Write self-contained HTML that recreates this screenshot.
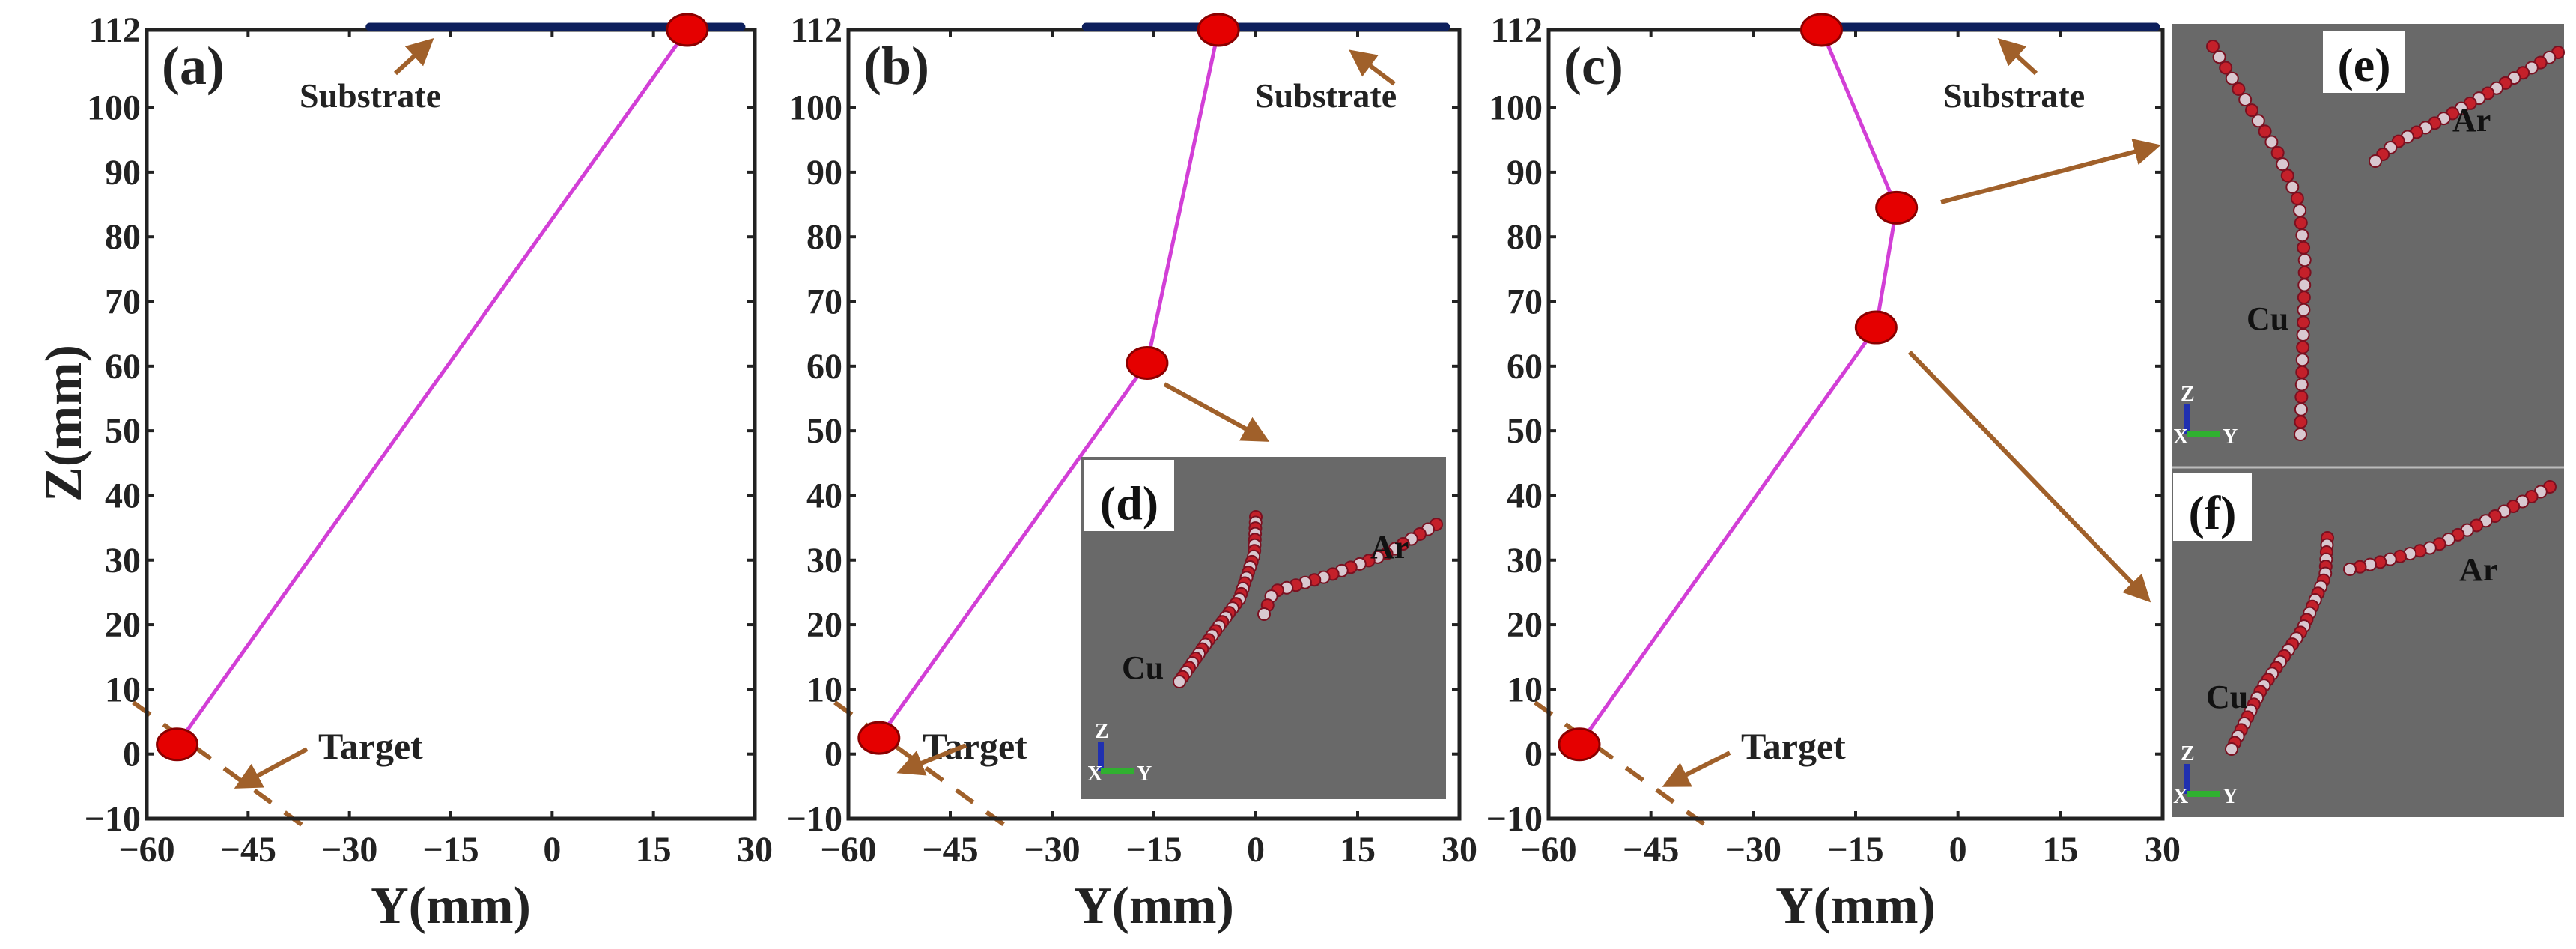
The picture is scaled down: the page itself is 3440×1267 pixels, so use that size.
<!DOCTYPE html>
<html><head><meta charset="utf-8"><style>
html,body{margin:0;padding:0;background:#fff;}
svg{display:block;}
text{font-family:"Liberation Serif",serif;font-weight:bold;}
</style></head><body>
<svg id="fig" width="3440" height="1267" viewBox="0 0 3440 1267" xmlns="http://www.w3.org/2000/svg"></svg>
<script>
const xTicks=[-60,-45,-30,-15,0,15,30];
const yTicks=[-10,0,10,20,30,40,50,60,70,80,90,100,112];
const pathA_y=[-55.5,20];
const pathA_z=[1.5,112];
const pathB_y=[-55.5,-16,-5.5];
const pathB_z=[2.5,60.5,112];
const pathC_y=[-55.5,-12,-9,-20];
const pathC_z=[1.5,66,84.5,112];
const substrateA=[-27,28];
const substrateB=[-25,28];
const substrateC=[-22,29];
const targetLine=[[-62,8],[-37,-11]];
const panelLetters=["(a)","(b)","(c)"];

const NS="http://www.w3.org/2000/svg";
const svg=document.getElementById('fig');
function el(tag,attrs,parent){const e=document.createElementNS(NS,tag);for(const k in attrs)e.setAttribute(k,attrs[k]);(parent||svg).appendChild(e);return e;}
function txt(s,attrs,parent){const e=el('text',attrs,parent);e.textContent=s;return e;}

const defs=el('defs',{});
const m=el('marker',{id:'ah',markerWidth:'6',markerHeight:'6',refX:'5',refY:'3',orient:'auto',markerUnits:'strokeWidth'},defs);
el('path',{d:'M0,0 L6,3 L0,6 Z',fill:'#a0602a'},m);

const panels=[
 {L:196,R:1008,ys:pathA_y,zs:pathA_z,sub:substrateA},
 {L:1133,R:1949,ys:pathB_y,zs:pathB_z,sub:substrateB},
 {L:2068,R:2888,ys:pathC_y,zs:pathC_z,sub:substrateC}];
const T=40,B=1093;
function yScale(z){return B-(z+10)/122*(B-T);}

panels.forEach((p,i)=>{
 const g=el('g',{});
 
 
 const x=v=>p.L+(v+60)/90*(p.R-p.L);
 const tl=el('line',{x1:x(targetLine[0][0]),y1:yScale(targetLine[0][1]),x2:x(targetLine[1][0]),y2:yScale(targetLine[1][1]),stroke:'#a0602a','stroke-width':6,'stroke-dasharray':'28 22'},g);
 
 
 const box=el('rect',{x:p.L,y:T,width:p.R-p.L,height:B-T,fill:'none',stroke:'#222','stroke-width':5},g);
 
 
 xTicks.forEach(v=>{
  el('line',{x1:x(v),y1:B,x2:x(v),y2:B-10,stroke:'#222','stroke-width':4},g);
  el('line',{x1:x(v),y1:T,x2:x(v),y2:T+10,stroke:'#222','stroke-width':4},g);
  const t=txt(v<0?'\u2212'+(-v):String(v),{x:x(v),y:1150,'font-size':48,'text-anchor':'middle',fill:'#222'},g);
  
  
 });
 yTicks.forEach(v=>{
  el('line',{x1:p.L,y1:yScale(v),x2:p.L+10,y2:yScale(v),stroke:'#222','stroke-width':4},g);
  el('line',{x1:p.R,y1:yScale(v),x2:p.R-10,y2:yScale(v),stroke:'#222','stroke-width':4},g);
  const t=txt(v<0?'\u2212'+(-v):String(v),{x:p.L-8,y:yScale(v)+16,'font-size':48,'text-anchor':'end',fill:'#222'},g);
  
  
 });
 const xt=txt('Y(mm)',{x:(p.L+p.R)/2,y:1232,'font-size':70,'text-anchor':'middle',fill:'#222'},g);
 
 
 const sb=el('line',{x1:x(p.sub[0]),y1:yScale(112)-4,x2:x(p.sub[1]),y2:yScale(112)-4,stroke:'#0d1f5c','stroke-width':11,'stroke-linecap':'round'},g);
 
 
 const pts=p.ys.map((v,k)=>x(v)+','+yScale(p.zs[k])).join(' ');
 const pl=el('polyline',{points:pts,fill:'none',stroke:'#d23fd6','stroke-width':5},g);
 
 
 p.ys.forEach((v,k)=>{
  const c=el('ellipse',{cx:x(v),cy:yScale(p.zs[k]),rx:27,ry:21,fill:'#e50000',stroke:'#8a0000','stroke-width':3},g);
  
  
 });
 const lt=txt(panelLetters[i],{x:p.L+20,y:T+72,'font-size':72,fill:'#222'},g);
 
 
});

const yt=txt('Z(mm)',{x:0,y:0,'font-size':70,'text-anchor':'middle',fill:'#222',transform:'translate(108,565) rotate(-90)'});



function arrow(x1,y1,x2,y2,name){const a=el('line',{x1,y1,x2,y2,stroke:'#a0602a','stroke-width':6,'marker-end':'url(#ah)'});}
function label(s,x,y,name,size){const t=txt(s,{x,y,'font-size':size||46,fill:'#222'});}
label('Substrate',400,143,'substrate-label');
arrow(528,98,575,55,'substrate-arrow');
label('Target',425,1013,'target-label',50);
arrow(410,1000,318,1050,'target-arrow');
label('Substrate',1676,143,'substrate-label');
arrow(1862,112,1806,70,'substrate-arrow');
label('Target',1232,1013,'target-label',50);
arrow(1290,995,1203,1030,'target-arrow');
arrow(1555,513,1690,587,'inset-d-arrow');
label('Substrate',2595,143,'substrate-label');
arrow(2719,98,2672,55,'substrate-arrow');
label('Target',2325,1013,'target-label',50);
arrow(2310,1005,2225,1048,'target-arrow');
arrow(2592,270,2880,195,'inset-e-arrow');
arrow(2550,470,2868,800,'inset-f-arrow');

function beads(g,pts,n,r,name){
 const segs=[];let tot=0;
 for(let i=1;i<pts.length;i++){const d=Math.hypot(pts[i][0]-pts[i-1][0],pts[i][1]-pts[i-1][1]);segs.push(d);tot+=d;}
 for(let k=0;k<n;k++){
  let s=tot*k/(n-1),i=0;while(i<segs.length-1&&s>segs[i]){s-=segs[i];i++;}
  const f=Math.min(1,s/segs[i]);
  const cx=pts[i][0]+(pts[i+1][0]-pts[i][0])*f, cy=pts[i][1]+(pts[i+1][1]-pts[i][1])*f;
  const c=el('circle',{cx,cy,r,fill:k%2?'#d9c8d0':'#c4202a',stroke:'#7a1020','stroke-width':2},g);
  
  
 }
}
function inset(x,y,w,h,lab,labPos,cu,ar,cuLab,arLab,axisPos,name){
 const g=el('g',{});
 
 
 el('rect',{x,y,width:w,height:h,fill:'#696969'},g);
 el('rect',{x:labPos[0],y:labPos[1],width:labPos[2],height:labPos[3],fill:'#fff'},g);
 const t=txt(lab,{x:labPos[0]+labPos[2]/2,y:labPos[1]+labPos[3]-16,'font-size':64,'text-anchor':'middle',fill:'#111'},g);
 
 
 beads(g,cu,34,8,'cu-bead');
 beads(g,ar,22,8,'ar-bead');
 const c1=txt('Cu',{x:cuLab[0],y:cuLab[1],'font-size':44,fill:'#111'},g);
 
 
 const c2=txt('Ar',{x:arLab[0],y:arLab[1],'font-size':44,fill:'#111'},g);
 
 
 const ax=axisPos[0],ay=axisPos[1];
 el('line',{x1:ax,y1:ay,x2:ax,y2:ay-40,stroke:'#2030b0','stroke-width':8},g);
 el('line',{x1:ax,y1:ay,x2:ax+45,y2:ay,stroke:'#30b030','stroke-width':8},g);
 txt('Z',{x:ax-8,y:ay-45,'font-size':28,fill:'#fff'},g);
 txt('X',{x:ax-18,y:ay+12,'font-size':28,fill:'#fff'},g);
 txt('Y',{x:ax+48,y:ay+12,'font-size':28,fill:'#fff'},g);
}
inset(1444,610,487,457,'(d)',[1448,614,120,95],
 [[1677,690],[1675,740],[1655,800],[1610,860],[1575,910]],
 [[1918,700],[1850,740],[1770,770],[1700,790],[1688,820]],
 [1498,906],[1830,745],[1470,1030],'inset-d');
inset(2900,32,524,592,'(e)',[3102,42,110,82],
 [[2955,62],[2990,120],[3040,200],[3070,270],[3078,350],[3075,470],[3072,580]],
 [[3416,70],[3330,120],[3260,160],[3200,190],[3172,215]],
 [3000,440],[3275,175],[2920,580],'inset-e');
inset(2900,624,524,467,'(f)',[2902,632,105,90],
 [[3108,718],[3105,770],[3075,840],[3020,920],[2980,1000]],
 [[3405,650],[3330,690],[3250,730],[3180,750],[3138,760]],
 [2946,945],[3284,775],[2920,1060],'inset-f');
const dv=el('line',{x1:2900,y1:624,x2:3424,y2:624,stroke:'#bbb','stroke-width':3});


</script>
</body></html>
